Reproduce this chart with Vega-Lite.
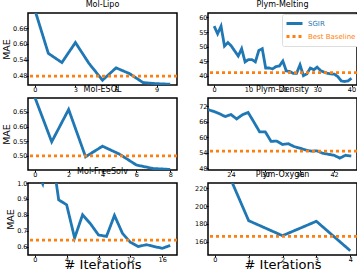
{
"$schema": "https://vega.github.io/schema/vega-lite/v6.json",
"padding": {"left": 0, "top": 0, "right": 0, "bottom": 0},
"columns": 2,
"bounds": "flush",
"spacing": {"row": 13, "column": 31},
"config": {
  "font": "DejaVu Sans",
  "view": {"stroke": "#000", "strokeWidth": 1.5},
  "axis": {"grid": false, "domain": false, "ticks": true, "tickSize": 2, "tickColor": "#000", "tickWidth": 1, "tickCount": 10, "labelFontSize": 6.5, "labelColor": "#000", "labelPadding": -1, "labelFlush": false, "labelOverlap": false, "titleFontWeight": "normal", "titleColor": "#000"},
  "title": {"fontSize": 8, "fontWeight": "normal", "offset": 0, "color": "#000"}
},
"resolve": {"legend": {"color": "independent", "strokeDash": "independent"}},
"datasets": {
  "sgir": [
    {"panel":"Mol-Lipo","series":"SGIR","x":0,"y":0.73},{"panel":"Mol-Lipo","series":"SGIR","x":1,"y":0.564},{"panel":"Mol-Lipo","series":"SGIR","x":2,"y":0.529},{"panel":"Mol-Lipo","series":"SGIR","x":3,"y":0.605},{"panel":"Mol-Lipo","series":"SGIR","x":4,"y":0.526},{"panel":"Mol-Lipo","series":"SGIR","x":5,"y":0.462},{"panel":"Mol-Lipo","series":"SGIR","x":6,"y":0.509},{"panel":"Mol-Lipo","series":"SGIR","x":7,"y":0.487},{"panel":"Mol-Lipo","series":"SGIR","x":8,"y":0.453},{"panel":"Mol-Lipo","series":"SGIR","x":9,"y":0.449},{"panel":"Mol-Lipo","series":"SGIR","x":10,"y":0.447},
    {"panel":"Mol-ESOL","series":"SGIR","x":0,"y":0.70},{"panel":"Mol-ESOL","series":"SGIR","x":1,"y":0.548},{"panel":"Mol-ESOL","series":"SGIR","x":2,"y":0.658},{"panel":"Mol-ESOL","series":"SGIR","x":3,"y":0.497},{"panel":"Mol-ESOL","series":"SGIR","x":4,"y":0.533},{"panel":"Mol-ESOL","series":"SGIR","x":5,"y":0.506},{"panel":"Mol-ESOL","series":"SGIR","x":6,"y":0.469},{"panel":"Mol-ESOL","series":"SGIR","x":7,"y":0.457},{"panel":"Mol-ESOL","series":"SGIR","x":8,"y":0.454},
    {"panel":"Mol-FreeSolv","series":"SGIR","x":0,"y":1.1},{"panel":"Mol-FreeSolv","series":"SGIR","x":1,"y":0.995},{"panel":"Mol-FreeSolv","series":"SGIR","x":2,"y":1.245},{"panel":"Mol-FreeSolv","series":"SGIR","x":3,"y":0.894},{"panel":"Mol-FreeSolv","series":"SGIR","x":4,"y":0.863},{"panel":"Mol-FreeSolv","series":"SGIR","x":5,"y":0.654},{"panel":"Mol-FreeSolv","series":"SGIR","x":6,"y":0.80},{"panel":"Mol-FreeSolv","series":"SGIR","x":7,"y":0.743},{"panel":"Mol-FreeSolv","series":"SGIR","x":8,"y":0.673},{"panel":"Mol-FreeSolv","series":"SGIR","x":9,"y":0.664},{"panel":"Mol-FreeSolv","series":"SGIR","x":10,"y":0.796},{"panel":"Mol-FreeSolv","series":"SGIR","x":11,"y":0.684},{"panel":"Mol-FreeSolv","series":"SGIR","x":12,"y":0.627},{"panel":"Mol-FreeSolv","series":"SGIR","x":13,"y":0.60},{"panel":"Mol-FreeSolv","series":"SGIR","x":14,"y":0.612},{"panel":"Mol-FreeSolv","series":"SGIR","x":15,"y":0.60},{"panel":"Mol-FreeSolv","series":"SGIR","x":16,"y":0.589},{"panel":"Mol-FreeSolv","series":"SGIR","x":17,"y":0.607},
    {"panel":"Plym-Melting","series":"SGIR","x":0,"y":57},{"panel":"Plym-Melting","series":"SGIR","x":1,"y":54.4},{"panel":"Plym-Melting","series":"SGIR","x":2,"y":57},{"panel":"Plym-Melting","series":"SGIR","x":3,"y":50.2},{"panel":"Plym-Melting","series":"SGIR","x":4,"y":51.4},{"panel":"Plym-Melting","series":"SGIR","x":5,"y":50.2},{"panel":"Plym-Melting","series":"SGIR","x":6,"y":48.5},{"panel":"Plym-Melting","series":"SGIR","x":7,"y":46.8},{"panel":"Plym-Melting","series":"SGIR","x":8,"y":49.3},{"panel":"Plym-Melting","series":"SGIR","x":9,"y":44.8},{"panel":"Plym-Melting","series":"SGIR","x":10,"y":45.6},{"panel":"Plym-Melting","series":"SGIR","x":11,"y":45.6},{"panel":"Plym-Melting","series":"SGIR","x":12,"y":44.8},{"panel":"Plym-Melting","series":"SGIR","x":13,"y":48.7},{"panel":"Plym-Melting","series":"SGIR","x":14,"y":49.3},{"panel":"Plym-Melting","series":"SGIR","x":15,"y":42.7},{"panel":"Plym-Melting","series":"SGIR","x":16,"y":42.7},{"panel":"Plym-Melting","series":"SGIR","x":17,"y":42.4},{"panel":"Plym-Melting","series":"SGIR","x":18,"y":43.2},{"panel":"Plym-Melting","series":"SGIR","x":19,"y":43.4},{"panel":"Plym-Melting","series":"SGIR","x":20,"y":45.1},{"panel":"Plym-Melting","series":"SGIR","x":21,"y":41.7},{"panel":"Plym-Melting","series":"SGIR","x":22,"y":41.5},{"panel":"Plym-Melting","series":"SGIR","x":23,"y":40.9},{"panel":"Plym-Melting","series":"SGIR","x":24,"y":40.9},{"panel":"Plym-Melting","series":"SGIR","x":25,"y":43.8},{"panel":"Plym-Melting","series":"SGIR","x":26,"y":40.1},{"panel":"Plym-Melting","series":"SGIR","x":27,"y":40.7},{"panel":"Plym-Melting","series":"SGIR","x":28,"y":42.7},{"panel":"Plym-Melting","series":"SGIR","x":29,"y":42.1},{"panel":"Plym-Melting","series":"SGIR","x":30,"y":43.0},{"panel":"Plym-Melting","series":"SGIR","x":31,"y":41.8},{"panel":"Plym-Melting","series":"SGIR","x":32,"y":41.3},{"panel":"Plym-Melting","series":"SGIR","x":33,"y":40.9},{"panel":"Plym-Melting","series":"SGIR","x":34,"y":40.7},{"panel":"Plym-Melting","series":"SGIR","x":35,"y":40.6},{"panel":"Plym-Melting","series":"SGIR","x":36,"y":39.8},{"panel":"Plym-Melting","series":"SGIR","x":37,"y":38.3},{"panel":"Plym-Melting","series":"SGIR","x":38,"y":38.1},{"panel":"Plym-Melting","series":"SGIR","x":39,"y":38.3},{"panel":"Plym-Melting","series":"SGIR","x":40,"y":39.2},
    {"panel":"Plym-Density","series":"SGIR","x":20,"y":70.7},{"panel":"Plym-Density","series":"SGIR","x":21,"y":70.0},{"panel":"Plym-Density","series":"SGIR","x":22,"y":69.1},{"panel":"Plym-Density","series":"SGIR","x":23,"y":68.0},{"panel":"Plym-Density","series":"SGIR","x":24,"y":68.8},{"panel":"Plym-Density","series":"SGIR","x":25,"y":67.1},{"panel":"Plym-Density","series":"SGIR","x":26,"y":68.7},{"panel":"Plym-Density","series":"SGIR","x":27,"y":69.6},{"panel":"Plym-Density","series":"SGIR","x":28,"y":65.9},{"panel":"Plym-Density","series":"SGIR","x":29,"y":62.1},{"panel":"Plym-Density","series":"SGIR","x":30,"y":62.1},{"panel":"Plym-Density","series":"SGIR","x":31,"y":58.4},{"panel":"Plym-Density","series":"SGIR","x":32,"y":58.5},{"panel":"Plym-Density","series":"SGIR","x":33,"y":57.2},{"panel":"Plym-Density","series":"SGIR","x":34,"y":57.5},{"panel":"Plym-Density","series":"SGIR","x":35,"y":56.4},{"panel":"Plym-Density","series":"SGIR","x":36,"y":55.8},{"panel":"Plym-Density","series":"SGIR","x":37,"y":55.1},{"panel":"Plym-Density","series":"SGIR","x":38,"y":54.6},{"panel":"Plym-Density","series":"SGIR","x":39,"y":54.7},{"panel":"Plym-Density","series":"SGIR","x":40,"y":53.8},{"panel":"Plym-Density","series":"SGIR","x":41,"y":53.4},{"panel":"Plym-Density","series":"SGIR","x":42,"y":53.0},{"panel":"Plym-Density","series":"SGIR","x":43,"y":51.9},{"panel":"Plym-Density","series":"SGIR","x":44,"y":53.0},{"panel":"Plym-Density","series":"SGIR","x":45,"y":52.7},
    {"panel":"Plym-Oxygen","series":"SGIR","x":0,"y":271},{"panel":"Plym-Oxygen","series":"SGIR","x":1,"y":183.7},{"panel":"Plym-Oxygen","series":"SGIR","x":2,"y":167.0},{"panel":"Plym-Oxygen","series":"SGIR","x":3,"y":183.0},{"panel":"Plym-Oxygen","series":"SGIR","x":4,"y":150.3}
  ],
  "base": [
    {"panel":"Mol-Lipo","series":"Best Baseline","y":0.478},
    {"panel":"Mol-ESOL","series":"Best Baseline","y":0.50},
    {"panel":"Mol-FreeSolv","series":"Best Baseline","y":0.64},
    {"panel":"Plym-Melting","series":"Best Baseline","y":41.1},
    {"panel":"Plym-Density","series":"Best Baseline","y":54.6},
    {"panel":"Plym-Oxygen","series":"Best Baseline","y":166.2}
  ]
},
"concat": [
  {"title": "Mol-Lipo", "width": 149, "height": 72,
   "layer": [
    {"data": {"name": "sgir"}, "transform": [{"filter": "datum.panel == 'Mol-Lipo'"}],
     "mark": {"type": "line", "clip": true, "strokeWidth": 2.8},
     "encoding": {
      "x": {"field": "x", "type": "quantitative", "scale": {"domain": [-0.5, 10.5], "nice": false, "zero": false}, "axis": {"values": [0,3,6,9], "format": "d", "title": null}},
      "y": {"field": "y", "type": "quantitative", "scale": {"domain": [0.444, 0.717], "nice": false, "zero": false}, "axis": {"values": [0.48,0.54,0.6,0.66], "format": ".2f", "title": "MAE", "titleFontSize": 9.5, "titlePadding": 1}},
      "color": {"field": "series", "type": "nominal", "scale": {"domain": ["SGIR","Best Baseline"], "range": ["#1f77b4","#ff7f0e"]}, "legend": null},
      "strokeDash": {"field": "series", "type": "nominal", "scale": {"domain": ["SGIR","Best Baseline"], "range": [[1,0],[3,3]]}, "legend": null}}},
    {"data": {"name": "base"}, "transform": [{"filter": "datum.panel == 'Mol-Lipo'"}],
     "mark": {"type": "rule", "strokeWidth": 2.8},
     "encoding": {
      "y": {"field": "y", "type": "quantitative"},
      "color": {"field": "series", "type": "nominal", "legend": null},
      "strokeDash": {"field": "series", "type": "nominal", "legend": null}}}
   ]},
  {"title": "Plym-Melting", "width": 149, "height": 72,
   "layer": [
    {"data": {"name": "sgir"}, "transform": [{"filter": "datum.panel == 'Plym-Melting'"}],
     "mark": {"type": "line", "clip": true, "strokeWidth": 2.8},
     "encoding": {
      "x": {"field": "x", "type": "quantitative", "scale": {"domain": [-1.8, 41.6], "nice": false, "zero": false}, "axis": {"values": [0,10,20,30,40], "format": "d", "title": null}},
      "y": {"field": "y", "type": "quantitative", "scale": {"domain": [36.9, 61.5], "nice": false, "zero": false}, "axis": {"values": [40,45,50,55,60], "format": "d", "title": null}},
      "color": {"field": "series", "type": "nominal", "scale": {"domain": ["SGIR","Best Baseline"], "range": ["#1f77b4","#ff7f0e"]},
        "legend": {"title": null, "orient": "none", "legendX": 74, "legendY": 1, "padding": 3, "strokeColor": "#ddd", "fillColor": "#fff", "cornerRadius": 2, "symbolType": "M-1,0L2.2,0", "symbolSize": 100, "symbolStrokeWidth": 2.8, "symbolFillColor": "transparent", "labelFontSize": 7, "rowPadding": 0, "labelOffset": 10,
          "encode": {"labels": {"update": {"fill": {"signal": "datum.value === 'SGIR' ? '#1f77b4' : '#ff7f0e'"}}}}}},
      "strokeDash": {"field": "series", "type": "nominal", "scale": {"domain": ["SGIR","Best Baseline"], "range": [[1,0],[3,3]]},
        "legend": {"title": null, "orient": "none", "legendX": 74, "legendY": 1, "padding": 3, "strokeColor": "#ddd", "fillColor": "#fff", "cornerRadius": 2, "symbolType": "M-1,0L2.2,0", "symbolSize": 100, "symbolStrokeWidth": 2.8, "symbolFillColor": "transparent", "labelFontSize": 7, "rowPadding": 0, "labelOffset": 10}}}},
    {"data": {"name": "base"}, "transform": [{"filter": "datum.panel == 'Plym-Melting'"}],
     "mark": {"type": "rule", "strokeWidth": 2.8},
     "encoding": {
      "y": {"field": "y", "type": "quantitative"},
      "color": {"field": "series", "type": "nominal"},
      "strokeDash": {"field": "series", "type": "nominal"}}}
   ]},
  {"title": "Mol-ESOL", "width": 149, "height": 72,
   "layer": [
    {"data": {"name": "sgir"}, "transform": [{"filter": "datum.panel == 'Mol-ESOL'"}],
     "mark": {"type": "line", "clip": true, "strokeWidth": 2.8},
     "encoding": {
      "x": {"field": "x", "type": "quantitative", "scale": {"domain": [-0.4, 8.4], "nice": false, "zero": false}, "axis": {"values": [0,2,4,6,8], "format": "d", "title": null}},
      "y": {"field": "y", "type": "quantitative", "scale": {"domain": [0.452, 0.697], "nice": false, "zero": false}, "axis": {"values": [0.5,0.55,0.6,0.65], "format": ".2f", "title": "MAE", "titleFontSize": 9.5, "titlePadding": 1}},
      "color": {"field": "series", "type": "nominal", "scale": {"domain": ["SGIR","Best Baseline"], "range": ["#1f77b4","#ff7f0e"]}, "legend": null},
      "strokeDash": {"field": "series", "type": "nominal", "scale": {"domain": ["SGIR","Best Baseline"], "range": [[1,0],[3,3]]}, "legend": null}}},
    {"data": {"name": "base"}, "transform": [{"filter": "datum.panel == 'Mol-ESOL'"}],
     "mark": {"type": "rule", "strokeWidth": 2.8},
     "encoding": {
      "y": {"field": "y", "type": "quantitative"},
      "color": {"field": "series", "type": "nominal", "legend": null},
      "strokeDash": {"field": "series", "type": "nominal", "legend": null}}}
   ]},
  {"title": "Plym-Density", "width": 149, "height": 72,
   "layer": [
    {"data": {"name": "sgir"}, "transform": [{"filter": "datum.panel == 'Plym-Density'"}],
     "mark": {"type": "line", "clip": true, "strokeWidth": 2.8},
     "encoding": {
      "x": {"field": "x", "type": "quantitative", "scale": {"domain": [20, 46], "nice": false, "zero": false}, "axis": {"values": [24,30,36,42], "format": "d", "title": null}},
      "y": {"field": "y", "type": "quantitative", "scale": {"domain": [47.3, 75.2], "nice": false, "zero": false}, "axis": {"values": [48,54,60,66,72], "format": "d", "title": null}},
      "color": {"field": "series", "type": "nominal", "scale": {"domain": ["SGIR","Best Baseline"], "range": ["#1f77b4","#ff7f0e"]}, "legend": null},
      "strokeDash": {"field": "series", "type": "nominal", "scale": {"domain": ["SGIR","Best Baseline"], "range": [[1,0],[3,3]]}, "legend": null}}},
    {"data": {"name": "base"}, "transform": [{"filter": "datum.panel == 'Plym-Density'"}],
     "mark": {"type": "rule", "strokeWidth": 2.8},
     "encoding": {
      "y": {"field": "y", "type": "quantitative"},
      "color": {"field": "series", "type": "nominal", "legend": null},
      "strokeDash": {"field": "series", "type": "nominal", "legend": null}}}
   ]},
  {"title": "Mol-FreeSolv", "width": 149, "height": 72,
   "layer": [
    {"data": {"name": "sgir"}, "transform": [{"filter": "datum.panel == 'Mol-FreeSolv'"}],
     "mark": {"type": "line", "clip": true, "strokeWidth": 2.8},
     "encoding": {
      "x": {"field": "x", "type": "quantitative", "scale": {"domain": [-0.85, 17.85], "nice": false, "zero": false}, "axis": {"values": [0,4,8,12,16], "format": "d", "title": "# Iterations", "titleFontSize": 13, "titlePadding": -4}},
      "y": {"field": "y", "type": "quantitative", "scale": {"domain": [0.547, 1.0], "nice": false, "zero": false}, "axis": {"values": [0.6,0.7,0.8,0.9,1.0], "format": ".1f", "title": "MAE", "titleFontSize": 9.5, "titlePadding": 1}},
      "color": {"field": "series", "type": "nominal", "scale": {"domain": ["SGIR","Best Baseline"], "range": ["#1f77b4","#ff7f0e"]}, "legend": null},
      "strokeDash": {"field": "series", "type": "nominal", "scale": {"domain": ["SGIR","Best Baseline"], "range": [[1,0],[3,3]]}, "legend": null}}},
    {"data": {"name": "base"}, "transform": [{"filter": "datum.panel == 'Mol-FreeSolv'"}],
     "mark": {"type": "rule", "strokeWidth": 2.8},
     "encoding": {
      "y": {"field": "y", "type": "quantitative"},
      "color": {"field": "series", "type": "nominal", "legend": null},
      "strokeDash": {"field": "series", "type": "nominal", "legend": null}}}
   ]},
  {"title": "Plym-Oxygen", "width": 149, "height": 72,
   "layer": [
    {"data": {"name": "sgir"}, "transform": [{"filter": "datum.panel == 'Plym-Oxygen'"}],
     "mark": {"type": "line", "clip": true, "strokeWidth": 2.8},
     "encoding": {
      "x": {"field": "x", "type": "quantitative", "scale": {"domain": [-0.2, 4.2], "nice": false, "zero": false}, "axis": {"values": [0,1,2,3,4], "format": "d", "title": "# Iterations", "titleFontSize": 13, "titlePadding": -4}},
      "y": {"field": "y", "type": "quantitative", "scale": {"domain": [145.5, 225.6], "nice": false, "zero": false}, "axis": {"values": [160,180,200,220], "format": "d", "title": null}},
      "color": {"field": "series", "type": "nominal", "scale": {"domain": ["SGIR","Best Baseline"], "range": ["#1f77b4","#ff7f0e"]}, "legend": null},
      "strokeDash": {"field": "series", "type": "nominal", "scale": {"domain": ["SGIR","Best Baseline"], "range": [[1,0],[3,3]]}, "legend": null}}},
    {"data": {"name": "base"}, "transform": [{"filter": "datum.panel == 'Plym-Oxygen'"}],
     "mark": {"type": "rule", "strokeWidth": 2.8},
     "encoding": {
      "y": {"field": "y", "type": "quantitative"},
      "color": {"field": "series", "type": "nominal", "legend": null},
      "strokeDash": {"field": "series", "type": "nominal", "legend": null}}}
   ]}
]
}
